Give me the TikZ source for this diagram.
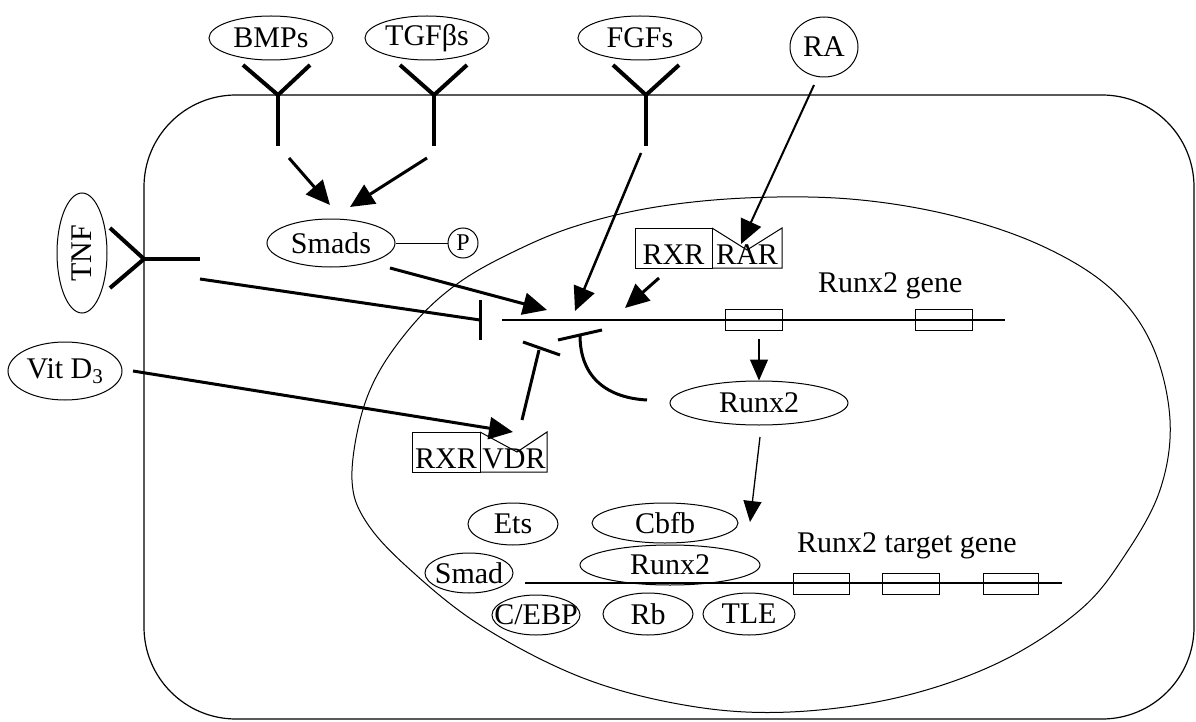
\documentclass[tikz,border=0pt]{standalone}
\usepackage{fontspec}
\setmainfont{Liberation Serif}
\usetikzlibrary{arrows.meta,shapes.geometric}
\begin{document}
\begin{tikzpicture}[x=1pt,y=-1pt,
  every node/.style={font=\fontsize{30}{36}\selectfont, inner sep=0pt},
  every label/.style={font=\fontsize{30}{36}\selectfont, inner sep=0pt},
  ell/.style 2 args={ellipse, draw, line width=1pt, minimum width=#1pt, minimum height=#2pt},
  outline/.style={line width=1.2pt},
  rec/.style={line width=4pt},
  inh/.style={line width=3pt},
  sig/.style={line width=3pt, -{Triangle[length=24pt,width=22pt]}},
  tsig/.style={line width=1.3pt, -{Triangle[length=21pt,width=18pt]}},
  genebox/.style={line width=1pt},
]
\useasboundingbox (0,0) rectangle (1196,722);

% cell
\draw[outline, rounded corners=92pt] (144,95) rectangle (1194,719);

% nucleus
\draw[line width=1pt] plot[smooth cycle, tension=0.6] coordinates {
 (352,480) (360,420) (380,370) (417,320) (457,284) (505,256) (570,228)
 (650,208) (745,198) (850,199) (950,215) (1040,245) (1110,288) (1152,345)
 (1170,420) (1160,490) (1125,555) (1080,610) (1000,662) (900,697) (790,712)
 (690,706) (583,678) (480,625) (405,565) (365,520)};

% ligands
\node[ell={124}{44}, label=center:BMPs] (bmp) at (271,38) {};
\node[ell={124}{44}, label=center:TGFβs] (tgf) at (427,38) {};
\node[ell={124}{44}, label=center:FGFs] (fgf) at (640,38) {};
\node[ell={68}{60}, label=center:RA] (ra) at (824,47) {};
\node[ell={50}{120}, label={[rotate=90]center:TNF}] (tnf) at (82,253) {};
\node[ell={114}{58}, label=center:{Vit D\textsubscript{3}}] (vitd) at (65,371) {};

% receptors
\coordinate (bmpJ) at (278,95);
\coordinate (bmpL) at (243,65);
\coordinate (bmpR) at (310,65);
\coordinate (bmpS) at (278,146);
\draw[rec] (bmpL) -- (bmpJ) -- (bmpR);
\draw[rec] (bmpJ) -- (bmpS);
\coordinate (tgfJ) at (434,95);
\coordinate (tgfL) at (400,65);
\coordinate (tgfR) at (467,65);
\coordinate (tgfS) at (434,146);
\draw[rec] (tgfL) -- (tgfJ) -- (tgfR);
\draw[rec] (tgfJ) -- (tgfS);
\coordinate (fgfJ) at (646,95);
\coordinate (fgfL) at (613,65);
\coordinate (fgfR) at (679,65);
\coordinate (fgfS) at (646,146);
\draw[rec] (fgfL) -- (fgfJ) -- (fgfR);
\draw[rec] (fgfJ) -- (fgfS);
\coordinate (tnfJ) at (144,259);
\coordinate (tnfU) at (110,228);
\coordinate (tnfD) at (110,288);
\coordinate (tnfS) at (200,259);
\draw[rec] (tnfU) -- (tnfJ) -- (tnfD);
\draw[rec] (tnfJ) -- (tnfS);

% Smads and P
\node[ell={128}{48}, label=center:Smads] (smads) at (331,243) {};
\node[circle, draw, line width=1pt, minimum size=30pt,
      label={[font=\fontsize{24}{28}\selectfont]center:P}] (p) at (463,243) {};
\draw[line width=1pt] (smads.east) -- (p.west);

% arrows to Smads
\coordinate (bmpA) at (289,158);
\coordinate (bmpT) at (330,205);
\coordinate (tgfA) at (427,158);
\coordinate (tgfT) at (350,207);
\draw[sig] (bmpA) -- (bmpT);
\draw[sig] (tgfA) -- (tgfT);

% Runx2 gene
\coordinate (g0) at (502,320);
\coordinate (g1) at (1005,320);
\draw[outline] (g0) -- (g1);
\draw[genebox] (725,309) rectangle (782,330);
\draw[genebox] (915,309) rectangle (972,330);
\node[anchor=base west] (rgene) at (818,292) {Runx2 gene};

% RXR RAR
\draw[genebox] (635,228) rectangle (712,268);
\draw[genebox] (712,228) -- (747,250) -- (782,228) -- (782,268) -- (712,268);
\node[anchor=base] (rxr1) at (673.5,264) {RXR};
\node[anchor=base] (rar) at (747,264) {RAR};

% RXR VDR
\draw[genebox] (412,432) rectangle (480,472);
\draw[genebox] (480,432) -- (517,452) -- (547,432) -- (547,472) -- (480,472);
\node[anchor=base] (rxr2) at (446,468) {RXR};
\node[anchor=base] (vdr) at (514,468) {VDR};

% activating arrows to the promoter
\coordinate (smA) at (390,268);
\coordinate (smT) at (547,310);
\draw[sig] (smA) -- (smT);
\coordinate (fgA) at (641,153);
\coordinate (fgT) at (575,311);
\draw[line width=2.5pt, -{Triangle[length=24pt,width=22pt]}] (fgA) -- (fgT);
\coordinate (rrA) at (659,278);
\coordinate (rrT) at (625,308);
\draw[sig] (rrA) -- (rrT);
\coordinate (raA) at (814,85);
\coordinate (raT) at (741,244);
\draw[line width=2pt, -{Triangle[length=24pt,width=22pt]}] (raA) -- (raT);
\coordinate (vdA) at (133,371);
\coordinate (vdT) at (513,432);
\draw[sig] (vdA) -- (vdT);

% TNF inhibition
\coordinate (tiA) at (200,279);
\coordinate (tiE) at (480,320);
\coordinate (tiB1) at (480,300);
\coordinate (tiB2) at (480,340);
\draw[inh] (tiA) -- (tiE);
\draw[inh] (tiB1) -- (tiB2);

% VDR inhibition
\coordinate (viA) at (522,420);
\coordinate (viE) at (539,350);
\coordinate (viB1) at (523,342);
\coordinate (viB2) at (560,355);
\draw[inh] (viA) -- (viE);
\draw[inh] (viB1) -- (viB2);

% Runx2 protein and feedback inhibition
\node[ell={178}{44}, label=center:Runx2] (runx) at (759,403) {};
\coordinate (riB1) at (558,340);
\coordinate (riB2) at (602,330);
\coordinate (riE) at (580,335);
\coordinate (riA) at (647,400);
\draw[inh] (riB1) -- (riB2);
\draw[inh] (riA) .. controls (610,398) and (580,380) .. (riE);

\coordinate (exA) at (759,339);
\draw[tsig] (exA) -- (runx.north);

% target gene complex
\node[ell={90}{42}, label=center:Ets] (ets) at (513,524) {};
\node[ell={146}{40}, label=center:Cbfb] (cbfb) at (665,523) {};
\node[ell={88}{40}, label=center:Smad] (smad) at (469,573) {};
\node[ell={180}{40}, label=center:Runx2] (runx2b) at (670,565) {};
\node[ell={88}{40}, label=center:C/EBP] (cebp) at (536,615) {};
\node[ell={90}{42}, label=center:Rb] (rb) at (648,614) {};
\node[ell={92}{42}, label=center:TLE] (tle) at (749,614) {};

\coordinate (t0) at (525,583);
\coordinate (t1) at (1062,583);
\draw[outline] (t0) -- (t1);
\draw[genebox] (793,573) rectangle (849,594);
\draw[genebox] (882,573) rectangle (939,594);
\draw[genebox] (983,573) rectangle (1038,594);
\node[anchor=base west] (tgene) at (797,552) {Runx2 target gene};

\coordinate (rtA) at (760,437);
\coordinate (rtT) at (750,522);
\draw[tsig] (rtA) -- (rtT);
\end{tikzpicture}
\end{document}
